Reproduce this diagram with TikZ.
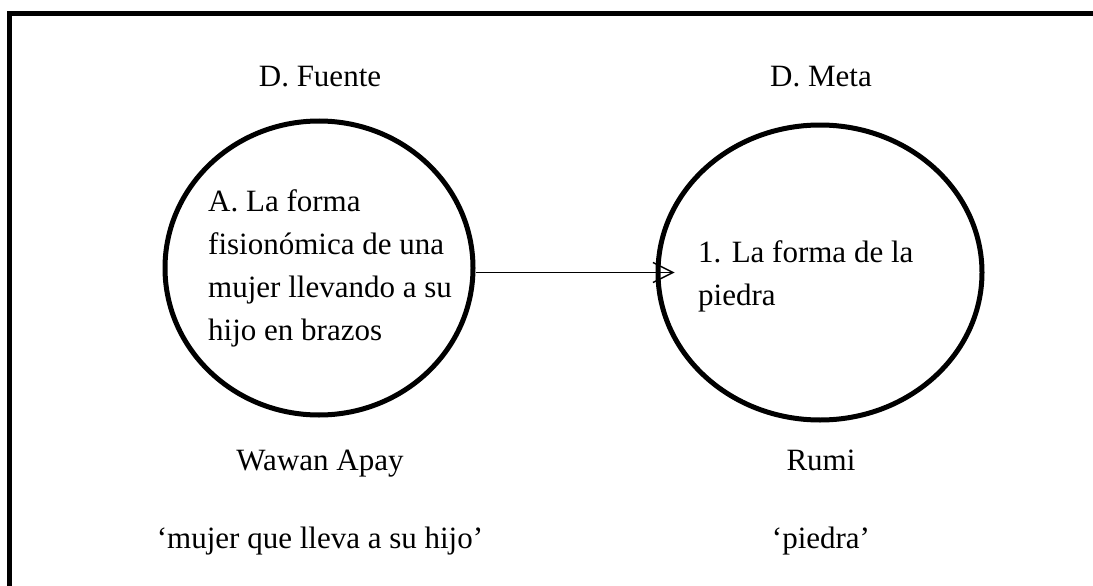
\documentclass[tikz,border=0pt]{standalone}
\usepackage{fontspec}
\setmainfont{Liberation Serif}
\usetikzlibrary{shapes.geometric,arrows.meta}

\begin{document}
\begin{tikzpicture}[x=1pt,y=-1pt,
    dominio/.style={draw,ellipse,line width=5pt,inner sep=0pt},
    etiqueta/.style={font=\fontsize{31}{42.7}\selectfont,inner sep=0pt,anchor=base},
    contenido/.style={font=\fontsize{31}{42.7}\selectfont,inner sep=0pt,align=left,anchor=base west},
    flecha/.style={line width=1.4pt,-{Straight Barb[length=20pt,width=20pt]}}]
  \useasboundingbox (0,0) rectangle (1093,586);
  \clip (0,0) rectangle (1093,586);
  % marco
  \draw[line width=5pt] (1110,14) -- (9.5,14) -- (9.5,600);
  % dominios
  \node[dominio,minimum width=308pt,minimum height=294pt] (fuente) at (319,268) {};
  \node[dominio,minimum width=324pt,minimum height=295pt] (meta) at (820,272.5) {};
  \node[etiqueta] (tfuente) at (320,87) {D. Fuente};
  \node[etiqueta] (tmeta) at (821,87) {D. Meta};
  % base = ultima linea
  \node[contenido] (cfuente) at (208,340) {A. La forma\\fisionómica de una\\mujer llevando a su\\hijo en brazos};
  \node[contenido] (cmeta) at (698,305) {1. La forma de la\\piedra};
  \draw[flecha] (fuente.east |- meta.west) -- ([xshift=19pt]meta.west);
  % nombres
  \node[etiqueta] (wawan) at (320,470) {Wawan Apay};
  \node[etiqueta] (rumi) at (821,470) {Rumi};
  \node[etiqueta] (gwawan) at (320,548) {‘mujer que lleva a su hijo’};
  \node[etiqueta] (grumi) at (821,548) {‘piedra’};
\end{tikzpicture}
\end{document}
